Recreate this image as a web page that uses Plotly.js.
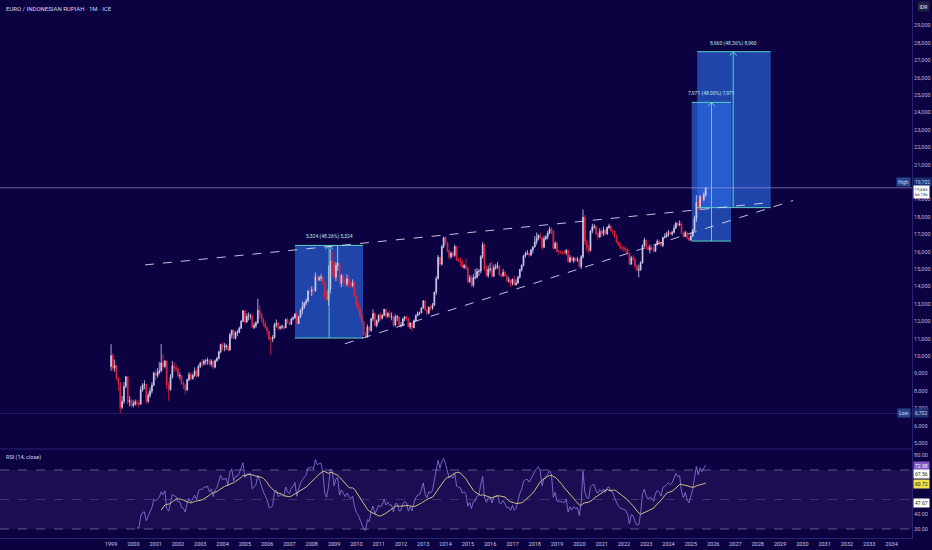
<!DOCTYPE html>
<html><head><meta charset="utf-8">
<script src="https://cdn.plot.ly/plotly-3.0.1.min.js"></script>
<style>html,body{margin:0;padding:0;background:#0c0242;}#chart{width:932px;height:550px;}</style>
</head><body><div id="chart"></div>
<script>
// ---- DATA: EUR/IDR monthly candles, Jan 1999 .. Sep 2025 ----
const startYear = 1999;
const firstOpen = 9400;
const closeVals = [
 10020,9300,9450,8700,8450,7050,7400,8250,8800,7350,7450,7150,      // 1999
 7250,7350,7280,7230,8060,8340,8370,7400,7730,7990,8340,9020,       // 2000
 8880,9050,9150,9600,9400,9720,8330,8070,8800,9440,9330,9260,       // 2001
 8860,8870,8420,8350,8050,8640,8930,8690,8880,9140,8860,9390,       // 2002
 9590,9560,9710,9720,9770,9530,9700,9360,9730,9850,10240,10670,     // 2003
 10510,10520,10570,10340,11220,11490,11010,11350,11370,11590,12000,12590, // 2004
 11960,12280,12290,12320,11650,11750,11910,12630,12400,12110,11840,11640, // 2005
 11420,10980,10980,11060,11800,11900,11590,11650,11700,11620,12100,11900, // 2006
 11820,12120,12180,12410,11860,12250,12620,12820,13040,13160,13720,13710, // 2007
 13790,13740,14560,14390,14480,14530,14240,13430,13230,13840,15430,15330, // 2008
 14530,15210,15340,14170,14630,14350,14150,14430,14170,14040,14220,13460, // 2009
 12980,12720,12300,11980,11260,11090,11680,11460,12140,12440,11750,12020, // 2010
 12340,12170,12340,12690,12280,12460,12250,12270,11780,12250,12250,11750, // 2011
 11770,12120,12250,12170,11680,11890,11640,12030,12310,12460,12480,12760, // 2012
 13170,12640,12460,12810,12740,12910,13670,14440,15670,15280,16280,16810, // 2013
 16500,16050,15700,15900,15780,16290,15530,15460,15420,15100,15190,15050, // 2014
 14270,14500,14060,14500,14530,14860,14880,15710,16400,15000,14620,14980, // 2015
 15000,14590,15090,15110,15180,14660,14620,14810,14600,14330,14360,14170, // 2016
 14410,14100,14190,14530,14970,15220,15760,15890,15910,15800,16090,16260, // 2017
 16570,16760,16930,16780,16250,16740,16850,17060,17300,17190,16190,16480, // 2018
 16000,15990,15980,15940,15930,16070,15420,15650,15470,15620,15510,15550, // 2019
 15150,15700,17980,16600,16220,16060,17180,17420,17440,17020,16840,17170, // 2020
 17020,17240,17030,17380,17470,17200,17190,16850,16560,16370,16240,16210, // 2021
 16150,16110,15900,15280,15640,15580,15170,14940,14950,15370,16360,16660, // 2022
 16290,16120,16230,16170,16020,16410,16600,16510,16350,16810,16870,17000, // 2023
 17080,17010,17110,17350,17630,17530,17590,17080,16860,17080,16790,16660, // 2024
 16880,17230,17890,18830,18500,19150,18990,19250,19665                    // 2025
];
const highVals = [
 10680,10150,9800,9500,8800,8500,7700,8500,8850,8840,7700,7550,
 7450,7500,7500,7450,8270,8450,8600,8400,7900,8200,8500,9100,
 9200,9300,9650,10680,10100,9750,9720,8500,8960,9720,9650,9500,
 9350,9050,8900,8550,8400,8700,9070,9050,9000,9350,9250,9500,
 9680,9820,9800,9820,9900,9800,9820,9730,9800,9950,10300,10700,
 10790,10750,10700,10650,11350,11500,11500,11420,11500,11700,12050,12650,
 12650,12450,12500,12450,12400,11900,12000,13300,12900,12500,12200,11950,
 11700,11450,11100,11200,11900,12100,11950,11750,11800,11750,12150,12200,
 12000,12200,12300,12450,12500,12300,12700,13140,13100,13300,13800,14000,
 14000,14000,14800,14700,14600,14700,14600,14250,13700,15200,16150,16000,
 15450,15400,16356,15380,14700,14700,14520,14690,14600,14300,14400,14300,
 13500,13100,12800,12400,12000,11400,11820,11700,12200,12680,12500,12100,
 12400,12500,12400,12700,12700,12500,12600,12500,12300,12400,12350,12250,
 11950,12200,12300,12300,12200,11950,11950,12100,12400,12550,12550,12800,
 13200,13170,12700,12850,12950,13050,13700,14600,15800,15700,16400,16850,
 16900,16550,16100,16000,16000,16400,16300,15650,15700,15550,15300,15600,
 15150,14650,14650,14700,15000,15050,15000,15800,16550,16450,15200,15200,
 15350,15400,15250,15300,15400,15200,14750,15000,14900,14700,14550,14400,
 14450,14600,14400,14600,15000,15260,15800,16000,16100,15950,16150,16300,
 16900,17100,17000,17100,16800,16900,16950,17200,17440,17400,17250,16600,
 16550,16100,16050,16050,16100,16150,16100,15800,15750,15700,15650,15700,
 15600,15800,18420,18100,16700,16400,17250,17600,17600,17500,17100,17350,
 17250,17440,17300,17450,17600,17500,17250,17200,17000,16600,16500,16300,
 16350,16250,16150,15950,15750,15800,15650,15250,15250,15450,16400,16800,
 16700,16350,16400,16400,16300,16450,16700,16650,16550,16850,17050,17150,
 17250,17150,17200,17550,17700,17730,17800,17700,17150,17200,17150,16900,
 17100,17300,18050,19250,18950,19250,19250,19400,19702
];
const lowVals = [
 9150,9150,9100,8600,8000,6702,6950,7250,8150,7240,7100,7050,
 7050,7150,7150,7050,7200,7950,8100,7240,7300,7600,7850,8250,
 8600,8750,8950,9070,9200,9300,8100,7430,8000,8700,9100,9100,
 8750,8650,8350,8100,7810,8000,8550,8600,8650,8800,8750,8800,
 9300,9400,9450,9500,9500,9450,9400,9240,9300,9650,9800,10150,
 10300,10270,10350,10250,10300,11000,10960,10950,11150,11300,11550,11950,
 11850,11900,12050,12100,11600,11550,11600,11850,12150,11950,11700,11550,
 11200,10900,10050,10800,11000,11650,11500,11500,11550,11500,11600,11850,
 11750,11800,12050,12150,11820,11850,12200,12400,12700,12900,13100,13500,
 13450,13500,13700,14200,14300,14300,14100,13300,13160,12900,13600,14600,
 14400,14300,14900,14000,13950,14000,13950,14000,13950,13900,13950,13400,
 12800,12570,12150,11950,11150,11032,11050,11350,11400,12000,11700,11650,
 11900,12050,12100,12300,12150,12200,12150,12050,11650,11700,12000,11700,
 11650,11700,12000,12050,11650,11550,11450,11600,11950,12300,12350,12450,
 12700,12600,12350,12400,12600,12650,12900,13500,14400,15150,15200,16200,
 16400,15950,15550,15600,15650,15700,15450,15400,15150,15050,15000,14950,
 14200,14200,13950,13950,14400,14450,14600,14750,15600,14900,14550,14500,
 14800,14500,14550,14950,15000,14600,14500,14550,14550,14250,14200,13950,
 14050,14050,14050,14150,14450,14850,15150,15650,15800,15700,15750,15900,
 16250,16400,16650,16700,16100,16200,16650,16700,17000,17000,16100,16150,
 15950,15800,15850,15800,15850,15800,15400,15350,15440,15350,15450,15400,
 15050,15000,15600,16400,16000,15900,16000,17050,17300,16950,16700,16800,
 16850,16900,16950,16950,17300,17150,16950,16800,16500,16350,16100,16050,
 16000,15950,15800,15200,15250,15450,15050,14850,14520,14900,15300,16250,
 16100,16050,15900,16050,15950,16000,16350,16350,16300,16250,16750,16800,
 16850,16950,16900,17050,17300,17450,17450,17000,16800,16850,16700,16606,
 16606,16850,17200,17700,18300,18450,18800,18900,19150
];
const yearLabels = [];
for (let y = 1999; y <= 2034; y++) yearLabels.push(String(y));
const priceTicks = [5000,6000,7000,8000,9000,10000,11000,12000,13000,14000,15000,16000,17000,18000,19000,21000,22000,23000,24000,25000,26000,27000,28000,29000];
const rsiTicks = [80,40,30];

// drawings (measure boxes and trendlines)
const measureBoxes = [
  {x0:'2007-04-01', x1:'2010-04-20', xm:'2008-10-12', lo:11032, hi:16356, label:'5,324 (48.26%) 5,324'},
  {x0:'2025-01-15', x1:'2026-10-20', xm:'2025-12-05', lo:16606, hi:24577, label:'7,971 (48.00%) 7,971'},
  {x0:'2025-04-15', x1:'2028-08-01', xm:'2026-11-25', lo:18528, hi:27488, label:'8,960 (48.36%) 8,960'}
];
const trendUpperX = ['2000-07-10','2028-07-20'], trendUpperY = [15235,18819];
const trendLowerX = ['2009-06-28','2029-08-01'], trendLowerY = [10705,18933];
const lastPrice = 19665, highPrice = 19702, lowPrice = 6702;
const rsiLabels = [
  {v:72.98, bg:'#7e57c2', fg:'#ffffff'},
  {v:67.56, bg:'#ffffff', fg:'#131722'},
  {v:60.72, bg:'#f2e24a', fg:'#131722'},
  {v:47.67, bg:'#ffffff', fg:'#131722'}
];

// ---- build ----
const n = closeVals.length;
const dates = [];
for (let i = 0; i < n; i++) {
  const y = startYear + Math.floor(i/12), m = i % 12 + 1;
  dates.push(y + '-' + String(m).padStart(2,'0') + '-01');
}
const openVals = closeVals.map((c,i) => i === 0 ? firstOpen : closeVals[i-1]);

// RSI(14) Wilder + SMA(14)
const P = 14;
const rsi = new Array(n).fill(null);
let ag = 0, al = 0;
for (let i = 1; i <= P; i++) { const d = closeVals[i]-closeVals[i-1]; ag += Math.max(d,0); al += Math.max(-d,0); }
ag /= P; al /= P;
rsi[P] = al === 0 ? 100 : 100 - 100/(1+ag/al);
for (let i = P+1; i < n; i++) {
  const d = closeVals[i]-closeVals[i-1];
  ag = (ag*(P-1) + Math.max(d,0))/P; al = (al*(P-1) + Math.max(-d,0))/P;
  rsi[i] = al === 0 ? 100 : 100 - 100/(1+ag/al);
}
const rsiMa = new Array(n).fill(null);
for (let i = P+P-1; i < n; i++) { let s = 0; for (let k = i-P+1; k <= i; k++) s += rsi[k]; rsiMa[i] = s/P; }

const BG = '#0c0242';
const TXT = '#b8b4dc';
const TEAL = '#5cd0c0';
const fontF = 'Roboto, "Noto Sans", sans-serif';

const traces = [
  {type:'candlestick', x:dates, open:openVals, high:highVals, low:lowVals, close:closeVals,
   xaxis:'x', yaxis:'y', whiskerwidth:0,
   increasing:{line:{color:'#d2cff2', width:0.8}, fillcolor:'#d2cff2'},
   decreasing:{line:{color:'#e3263c', width:0.8}, fillcolor:'#e3263c'},
   hoverinfo:'skip', showlegend:false},
  {type:'scatter', mode:'lines', x:dates, y:rsi, xaxis:'x', yaxis:'y2',
   line:{color:'#8a7ce0', width:0.8}, hoverinfo:'skip', showlegend:false},
  {type:'scatter', mode:'lines', x:dates, y:rsiMa, xaxis:'x', yaxis:'y2',
   line:{color:'#d2bd82', width:1}, hoverinfo:'skip', showlegend:false}
];

const split = (538-449)/538;
const shapes = [];
const annotations = [];
// RSI band
shapes.push({type:'rect', xref:'paper', yref:'y2', x0:0, x1:1, y0:30, y1:70, fillcolor:'rgba(126,87,194,0.14)', line:{width:0}, layer:'below'});
[70,30].forEach(v => shapes.push({type:'line', xref:'paper', yref:'y2', x0:0, x1:1, y0:v, y1:v, line:{color:'rgba(150,146,190,0.75)', width:0.8, dash:'dash'}}));
shapes.push({type:'line', xref:'paper', yref:'y2', x0:0, x1:1, y0:50, y1:50, line:{color:'rgba(120,116,170,0.45)', width:0.8, dash:'dash'}});
// panel separator
shapes.push({type:'line', xref:'paper', yref:'paper', x0:0, x1:1, y0:split, y1:split, line:{color:'#2b2470', width:1}});
// price lines
shapes.push({type:'line', xref:'paper', yref:'y', x0:0, x1:1, y0:lowPrice, y1:lowPrice, line:{color:'rgba(110,100,190,0.35)', width:0.8}});
shapes.push({type:'line', xref:'paper', yref:'y', x0:0, x1:1, y0:lastPrice, y1:lastPrice, line:{color:'rgba(170,160,225,0.6)', width:1}});
// measure boxes
measureBoxes.forEach(b => {
  shapes.push({type:'rect', xref:'x', yref:'y', x0:b.x0, x1:b.x1, y0:b.lo, y1:b.hi, fillcolor:'rgba(42,104,225,0.66)', line:{width:0}, layer:'below'});
});
measureBoxes.forEach(b => {
  shapes.push({type:'line', xref:'x', yref:'y', x0:b.x0, x1:b.x1, y0:b.lo, y1:b.lo, line:{color:TEAL, width:1}});
  shapes.push({type:'line', xref:'x', yref:'y', x0:b.x0, x1:b.x1, y0:b.hi, y1:b.hi, line:{color:TEAL, width:1}});
  shapes.push({type:'line', xref:'x', yref:'y', x0:b.xm, x1:b.xm, y0:b.lo, y1:b.hi, line:{color:TEAL, width:1}});
  shapes.push({type:'path', xref:'x', yref:'y', xsizemode:'pixel', ysizemode:'pixel', xanchor:b.xm, yanchor:b.hi,
               path:'M-3.5,-4 L0,0 L3.5,-4', line:{color:TEAL, width:1}});
  annotations.push({xref:'x', yref:'y', x:b.xm, y:b.hi, text:b.label, showarrow:false, yanchor:'bottom', yshift:3,
                    font:{size:5, color:'#bfe3e6', family:fontF}});
});
// trendlines
shapes.push({type:'line', xref:'x', yref:'y', x0:trendUpperX[0], x1:trendUpperX[1], y0:trendUpperY[0], y1:trendUpperY[1], line:{color:'rgba(225,225,245,0.85)', width:1, dash:'dash'}});
shapes.push({type:'line', xref:'x', yref:'y', x0:trendLowerX[0], x1:trendLowerX[1], y0:trendLowerY[0], y1:trendLowerY[1], line:{color:'rgba(225,225,245,0.85)', width:1, dash:'dash'}});

// text labels
annotations.push({xref:'paper', yref:'paper', x:0, y:1, xanchor:'left', yanchor:'top', xshift:4, yshift:-3, showarrow:false,
  text:'EURO / INDONESIAN RUPIAH · 1M · ICE', font:{size:6, color:'#d6d4ee', family:fontF}});
annotations.push({xref:'paper', yref:'paper', x:0, y:split, xanchor:'left', yanchor:'top', xshift:4, yshift:-3, showarrow:false,
  text:'RSI (14, close)', font:{size:5.5, color:'#d6d4ee', family:fontF}});
annotations.push({xref:'paper', yref:'paper', x:1, y:1, xanchor:'left', yanchor:'top', xshift:5, yshift:-1, showarrow:false,
  text:'IDR', bgcolor:'#202040', borderpad:1.5, font:{size:5, color:'#e8e8f4', family:fontF}});
// High / Low / Last tags
annotations.push({xref:'paper', yref:'y', x:1, y:20000, xanchor:'left', yanchor:'middle', xshift:1, showarrow:false,
  text:highPrice.toLocaleString('en-US'), bgcolor:'#1b3070', borderpad:1, font:{size:5, color:'#c7d5ff', family:fontF}});
annotations.push({xref:'paper', yref:'y', x:1, y:20000, xanchor:'right', yanchor:'middle', xshift:-1, showarrow:false,
  text:'High', bgcolor:'#28478a', borderpad:1, font:{size:5, color:'#c7d5ff', family:fontF}});
annotations.push({xref:'paper', yref:'y', x:1, y:lastPrice, xanchor:'left', yanchor:'top', xshift:1, yshift:3, showarrow:false,
  text:lastPrice.toLocaleString('en-US') + '<br>5d 13h', bgcolor:'#ffffff', borderpad:0.5, font:{size:4.3, color:'#131722', family:fontF}});
annotations.push({xref:'paper', yref:'y', x:1, y:lowPrice, xanchor:'left', yanchor:'middle', xshift:1, showarrow:false,
  text:lowPrice.toLocaleString('en-US'), bgcolor:'#1b3070', borderpad:1, font:{size:5, color:'#c7d5ff', family:fontF}});
annotations.push({xref:'paper', yref:'y', x:1, y:lowPrice, xanchor:'right', yanchor:'middle', xshift:-1, showarrow:false,
  text:'Low', bgcolor:'#28478a', borderpad:1, font:{size:5, color:'#c7d5ff', family:fontF}});
rsiLabels.forEach(l => annotations.push({xref:'paper', yref:'y2', x:1, y:l.v, xanchor:'left', yanchor:'middle', xshift:1, showarrow:false,
  text:l.v.toFixed(2), bgcolor:l.bg, borderpad:1, font:{size:5, color:l.fg, family:fontF}}));

const layout = {
  width:932, height:550, paper_bgcolor:BG, plot_bgcolor:BG,
  margin:{l:0, r:20, t:0, b:12, pad:0}, showlegend:false, dragmode:false,
  font:{family:fontF, color:TXT, size:5.5},
  xaxis:{type:'date', range:['1994-01-08','2034-12-02'], anchor:'y2', domain:[0,1],
    tickvals:yearLabels.map(y => y + '-01-01'), ticktext:yearLabels, tickfont:{size:5.5, color:'#c9c7e6'},
    showgrid:false, zeroline:false, showline:true, linecolor:'#2b2470', ticks:'', rangeslider:{visible:false}, fixedrange:true},
  yaxis:{domain:[split,1], range:[4656,30459], side:'right', anchor:'x', tickvals:priceTicks,
    ticktext:priceTicks.map(v => v.toLocaleString('en-US')), tickfont:{size:5.5, color:TXT},
    showgrid:false, zeroline:false, showline:true, linecolor:'#2b2470', ticks:'', fixedrange:true},
  yaxis2:{domain:[0,split], range:[23.9,84.24], side:'right', anchor:'x', tickvals:rsiTicks,
    ticktext:rsiTicks.map(v => v.toFixed(2)), tickfont:{size:5.5, color:TXT},
    showgrid:false, zeroline:false, showline:true, linecolor:'#2b2470', ticks:'', fixedrange:true},
  shapes:shapes, annotations:annotations
};
Plotly.newPlot('chart', traces, layout, {staticPlot:true, displayModeBar:false});
</script></body></html>
